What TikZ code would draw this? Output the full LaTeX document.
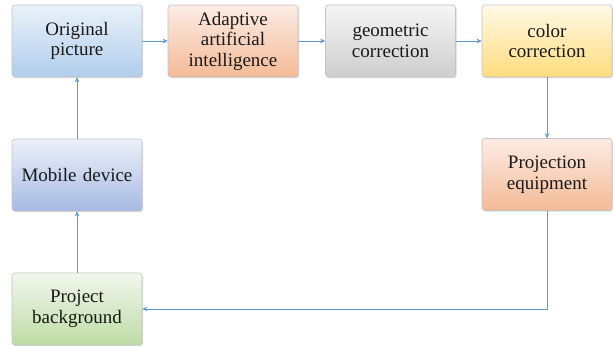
\documentclass[tikz,border=0pt]{standalone}
\usepackage{fontspec}
\setmainfont{Liberation Serif}
\usetikzlibrary{arrows.meta,shadows}
\definecolor{arrowblue}{HTML}{5B9BD5}
\definecolor{edgegray}{HTML}{C4C4C4}
\tikzset{
  box/.style={draw=edgegray, line width=0.6pt, rounded corners=3pt,
    minimum width=130pt, minimum height=72pt, inner sep=0pt,
    align=center, text width=126pt,
    font=\fontsize{19}{20.5}\selectfont, text=black!90,
    drop shadow={shadow xshift=1pt, shadow yshift=-1.2pt, opacity=0.25, fill=black!60}},
  bluebox/.style={box, top color=white!70!blue!8!cyan!10, bottom color={rgb,255:red,176;green,204;blue,235}},
  mobilebox/.style={box, top color={rgb,255:red,236;green,240;blue,249}, bottom color={rgb,255:red,166;green,186;blue,228}},
  orangebox/.style={box, top color={rgb,255:red,252;green,236;blue,228}, bottom color={rgb,255:red,244;green,186;blue,150}},
  graybox/.style={box, top color={rgb,255:red,245;green,245;blue,245}, bottom color={rgb,255:red,206;green,206;blue,206}},
  yellowbox/.style={box, top color={rgb,255:red,255;green,249;blue,230}, bottom color={rgb,255:red,255;green,220;blue,125}},
  greenbox/.style={box, top color={rgb,255:red,242;green,247;blue,237}, bottom color={rgb,255:red,190;green,220;blue,165}},
  conn/.style={draw=arrowblue, line width=0.8pt, -{Stealth[length=5pt,width=4.5pt]}}
}
\begin{document}
\begin{tikzpicture}[x=1pt,y=1pt]
\useasboundingbox (0,0) rectangle (613,347);
\node[box, top color={rgb,255:red,234;green,241;blue,250}, bottom color={rgb,255:red,176;green,206;blue,236}] (orig) at (77,306) {Original\\picture};
\node[orangebox] (ai) at (233,306) {Adaptive\\artificial\\intelligence};
\node[graybox] (geo) at (390.5,306) {geometric\\correction};
\node[yellowbox] (col) at (547,306) {color\\correction};
\node[mobilebox] (mob) at (77,172) {Mobile device};
\node[orangebox] (proj) at (547,172.5) {Projection\\equipment};
\node[greenbox] (bg) at (77,38) {Project\\background};
\coordinate (corner) at (proj.south |- bg.east);
\draw[conn] (orig) -- (ai);
\draw[conn] (ai) -- (geo);
\draw[conn] (geo) -- (col);
\draw[conn] (col) -- (proj);
\draw[conn] (proj.south) -- (corner) -- (bg.east);
\draw[conn] (bg) -- (mob);
\draw[conn] (mob) -- (orig);
\end{tikzpicture}
\end{document}
